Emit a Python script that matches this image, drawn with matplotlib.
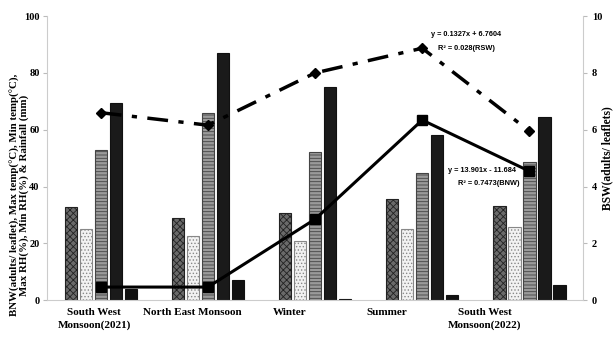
import matplotlib
matplotlib.use("Agg")
import matplotlib.pyplot as plt
import numpy as np

plt.rcParams['font.family'] = ['Liberation Serif', 'DejaVu Serif']
plt.rcParams['font.weight'] = 'bold'
plt.rcParams['hatch.linewidth'] = 0.6

seasons = ["South West\nMonsoon(2021)", "North East Monsoon", "Winter", "Summer", "South West\nMonsoon(2022)"]
bnw = [0.46, 0.46, 2.85, 6.34, 4.54]
rsw = [6.6, 6.16, 8.0, 8.87, 5.95]
max_temp = [32.7, 28.9, 30.6, 35.6, 33.0]
min_temp = [25.0, 22.5, 20.8, 25.0, 25.7]
max_rh = [53.0, 66.0, 52.0, 44.7, 48.6]
min_rh = [69.4, 87.0, 75.0, 58.0, 64.5]
rainfall = [3.9, 7.0, 0.3, 1.7, 5.3]

x = np.arange(len(seasons))
w = 0.115
step = 0.14

fig = plt.figure(figsize=(6.13, 3.43), dpi=100)
ax = fig.add_axes([0.077, 0.125, 0.874, 0.828])

bar_styles = [
    (max_temp, '#6a6a6a', 'xxxxx', '#222222'),
    (min_temp, '#f2f2f2', '.....', '#888888'),
    (max_rh, '#9a9a9a', '-----', '#444444'),
    (min_rh, '#1a1a1a', None, '#111111'),
    (rainfall, '#111111', None, '#111111'),
]
for k, (vals, fc, hatch, ec) in enumerate(bar_styles):
    ax.bar(x + (k - 2) * step, vals, width=w, color=fc, hatch=hatch,
           edgecolor=ec, linewidth=0.8, zorder=2)

ax.set_ylim(0, 100)
ax.set_xlim(-0.5, 4.5)
ax.set_yticks(np.arange(0, 101, 20))
ax.set_xticks(0.91 * x - 0.06)
ax.set_xticklabels(seasons, fontsize=8, fontweight='bold', linespacing=1.45)
ax.tick_params(axis='x', length=0, pad=6)
ax.tick_params(axis='y', labelsize=7.5, length=3, color='#bbbbbb', pad=2.5)
ax.set_ylabel("BNW(adults/ leaflet), Max temp(°C), Min temp(°C),\nMax RH(%), Min RH(%) & Rainfall (mm)",
              fontsize=7.8, fontweight='bold', linespacing=0.95)
ax.yaxis.set_label_coords(-0.034, 0.37)
for s in ['top', 'right']:
    ax.spines[s].set_visible(False)
for s in ['left', 'bottom']:
    ax.spines[s].set_color('#cccccc')

ax2 = ax.twinx()
ax2.plot(x, rsw, color='black', linestyle=(0, (6, 3, 1.5, 3)), linewidth=2.5,
         marker='D', markersize=5, zorder=3)
ax2.plot(x, bnw, color='black', linestyle='-', linewidth=2.2,
         marker='s', markersize=7, zorder=3)
ax2.set_ylim(0, 10)
ax2.set_yticks(np.arange(0, 11, 2))
ax2.tick_params(axis='y', labelsize=7.5, length=3, color='#bbbbbb')
ax2.set_ylabel("BSW(adults/ leaflets)", fontsize=8.3, fontweight='bold')
ax2.yaxis.set_label_coords(1.035, 0.5)
for s in ['top', 'left', 'bottom']:
    ax2.spines[s].set_visible(False)
ax2.spines['right'].set_color('#cccccc')

ann = dict(fontsize=5.3, family=['Liberation Sans Narrow', 'Liberation Sans'], fontweight='bold')
ax2.text(3.08, 9.3, "y = 0.1327x + 6.7604", **ann)
ax2.text(3.15, 8.8, "R² = 0.028(RSW)", **ann)
ax2.text(3.24, 4.5, "y = 13.901x - 11.684", **ann)
ax2.text(3.33, 4.05, "R² = 0.7473(BNW)", **ann)

fig.savefig("out.png", dpi=100)
